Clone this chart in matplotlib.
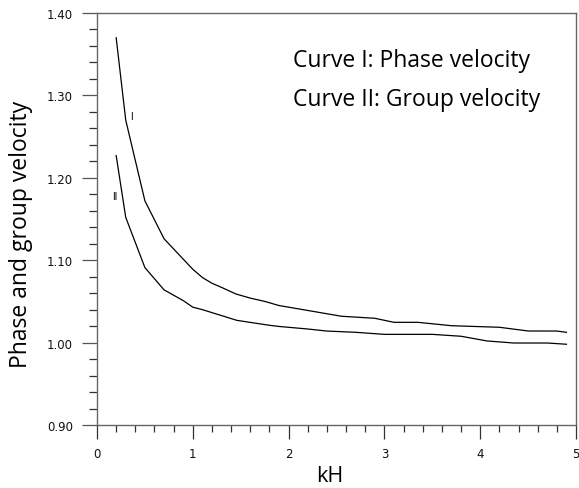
import matplotlib
matplotlib.use("Agg")
import matplotlib.pyplot as plt
from matplotlib.ticker import MultipleLocator, FormatStrFormatter

# Data
kh_phase = [0.2, 0.30, 0.5, 0.7, 0.87, 1.0, 1.1, 1.2, 1.3, 1.45, 1.6, 1.75, 1.9,
            2.2, 2.55, 2.9, 3.1, 3.35, 3.7, 4.2, 4.5, 4.8, 4.9]
v_phase = [1.370, 1.270, 1.172, 1.126, 1.105, 1.089, 1.079, 1.072, 1.067, 1.059,
           1.054, 1.050, 1.045, 1.039, 1.032, 1.0295, 1.0246, 1.0246, 1.0205,
           1.0186, 1.0141, 1.014, 1.0125]
kh_group = [0.2, 0.3, 0.5, 0.7, 0.9, 1.0, 1.1, 1.46, 1.8, 1.9, 2.2, 2.4, 2.7, 3.0,
            3.5, 3.8, 4.07, 4.35, 4.7, 4.9]
v_group = [1.227, 1.152, 1.091, 1.064, 1.051, 1.043, 1.040, 1.027, 1.021, 1.0196,
           1.0165, 1.014, 1.0125, 1.010, 1.010, 1.0077, 1.002, 0.9995, 0.9995, 0.998]
label_phase = "I"
label_group = "II"
legend_lines = ["Curve I: Phase velocity", "Curve II: Group velocity"]
x_label = "kH"
y_label = "Phase and group velocity"

fig = plt.figure(figsize=(5.79, 4.89), dpi=100)
ax = fig.add_axes([97/579, 1-426/489, (576-97)/579, (426-14)/489])

ax.plot(kh_phase, v_phase, color="black", lw=0.9)
ax.plot(kh_group, v_group, color="black", lw=0.9)

ax.text(0.355, 1.275, label_phase, fontsize=7, family="Liberation Sans",
        ha="center", va="center")
ax.text(0.19, 1.178, label_group, fontsize=7, family="Liberation Sans",
        ha="center", va="center")

ax.text(0.409, 0.871, legend_lines[0], transform=ax.transAxes, fontsize=16.5,
        family="Open Sans", ha="left", va="baseline")
ax.text(0.409, 0.777, legend_lines[1], transform=ax.transAxes, fontsize=16.5,
        family="Open Sans", ha="left", va="baseline")

ax.set_xlim(0, 5)
ax.set_ylim(0.90, 1.40)
ax.xaxis.set_major_locator(MultipleLocator(1))
ax.xaxis.set_minor_locator(MultipleLocator(0.2))
ax.yaxis.set_major_locator(MultipleLocator(0.1))
ax.yaxis.set_minor_locator(MultipleLocator(0.02))
ax.yaxis.set_major_formatter(FormatStrFormatter("%.2f"))
ax.xaxis.set_major_formatter(FormatStrFormatter("%d"))

ax.tick_params(axis="y", which="major", direction="out", length=10.8, width=0.9,
               pad=6.5, labelsize=8.5, colors="#555555", labelcolor="#111111")
ax.tick_params(axis="y", which="minor", direction="out", length=5.8, width=0.9,
               colors="#333333")
ax.tick_params(axis="x", which="major", direction="out", length=10, width=0.9,
               pad=6, labelsize=8.5, colors="#333333", labelcolor="#111111")
ax.tick_params(axis="x", which="minor", direction="out", length=5, width=0.9,
               colors="#333333")
for lab in ax.get_xticklabels() + ax.get_yticklabels():
    lab.set_family("DejaVu Sans")

for s in ax.spines.values():
    s.set_color("#666666")
    s.set_linewidth(1.0)

ax.set_xlabel(x_label, fontsize=15.5, family="Open Sans")
ax.set_ylabel(y_label, fontsize=16.5, family="Open Sans")
ax.xaxis.set_label_coords(0.486, -0.097)
ax.yaxis.set_label_coords(-0.134, 0.466)

fig.savefig("out.png", dpi=100)
